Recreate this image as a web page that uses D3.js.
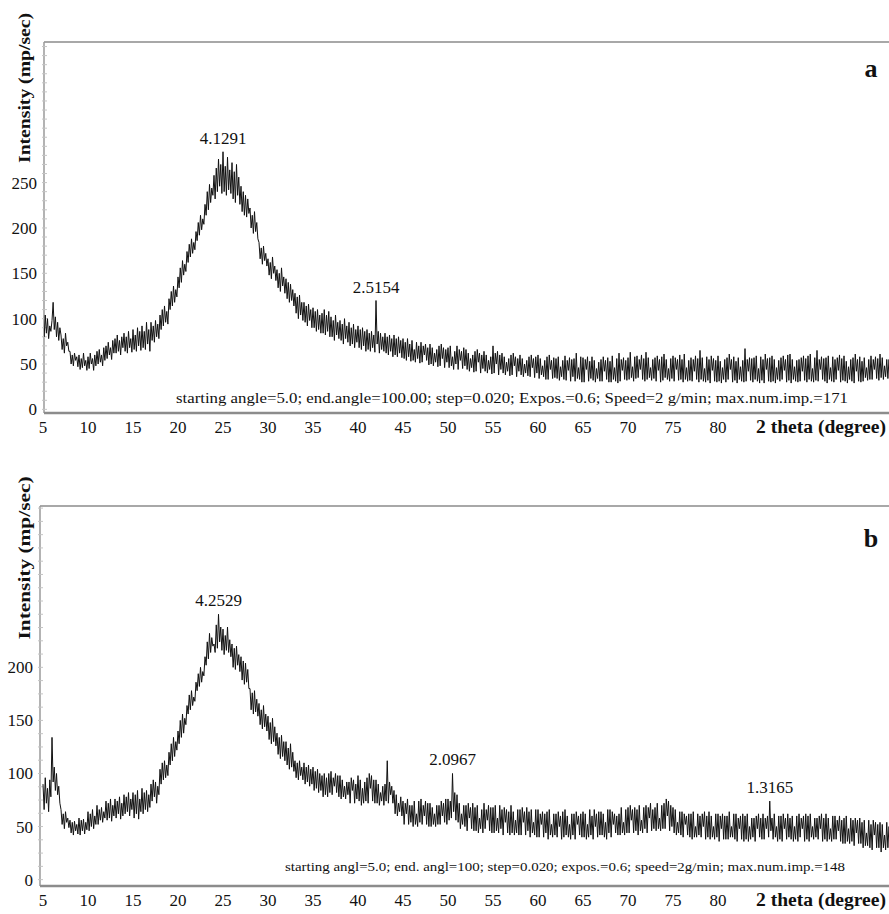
<!DOCTYPE html>
<html>
<head>
<meta charset="utf-8">
<script src="https://cdn.jsdelivr.net/npm/d3@7/dist/d3.min.js"></script>
<style>
body { margin: 0; background: #fff; }
text { font-family: "Liberation Serif", "Times New Roman", Times, serif; fill: #111; }
</style>
</head>
<body>
<svg id="chart" width="889" height="914"></svg>
<script>
// 2 theta grid of the read-off values (degrees), eight readings per degree
var theta_start = 5;
var theta_step = 0.125;

// panel a, intensity (mp/sec), one row per degree from 5 to 99
var intensity_a = [
    96, 80, 104, 84, 100, 78, 92, 86,
    98, 118, 88, 102, 80, 96, 76, 90,
    82, 66, 78, 62, 84, 70, 74, 64,
    64, 50, 60, 48, 62, 54, 58, 47,
    60, 44, 56, 46, 62, 48, 54, 43,
    58, 45, 62, 50, 56, 43, 60, 48,
    64, 50, 66, 52, 60, 48, 68, 54,   // 11
    70, 56, 74, 60, 68, 55, 76, 62,
    78, 62, 82, 64, 76, 60, 80, 68,
    84, 64, 80, 62, 86, 68, 78, 63,
    88, 66, 82, 64, 90, 70, 86, 65,   // 15
    92, 68, 86, 66, 96, 72, 88, 64,
    96, 76, 92, 74, 98, 80, 94, 78,
    104, 88, 110, 92, 114, 96, 108, 94,
    122, 110, 130, 114, 136, 118, 132, 124,
    146, 134, 156, 140, 164, 148, 160, 152,   // 20
    174, 162, 182, 168, 188, 172, 184, 176,
    196, 186, 206, 192, 214, 198, 210, 204,
    226, 214, 240, 220, 248, 228, 244, 236,
    258, 232, 266, 240, 276, 246, 270, 238,
    284, 240, 268, 236, 278, 242, 264, 238,   // 25
    272, 232, 262, 228, 270, 236, 256, 226,
    246, 218, 240, 214, 236, 212, 232, 216,
    222, 200, 214, 194, 218, 196, 206, 188,
    184, 166, 178, 160, 180, 164, 172, 158,
    166, 148, 162, 144, 168, 150, 158, 142,   // 30
    154, 134, 150, 130, 156, 136, 146, 128,
    144, 122, 140, 118, 138, 120, 132, 114,
    128, 106, 124, 100, 126, 104, 118, 98,
    118, 96, 114, 92, 116, 98, 110, 90,
    112, 90, 108, 86, 110, 88, 104, 84,   // 35
    106, 84, 110, 82, 104, 86, 108, 80,
    102, 80, 98, 76, 104, 82, 96, 78,
    98, 76, 94, 72, 100, 78, 92, 74,
    96, 70, 90, 72, 94, 68, 88, 74,
    92, 68, 88, 66, 90, 70, 86, 64,   // 40
    88, 66, 84, 64, 86, 68, 82, 63,
    120, 72, 86, 62, 84, 66, 80, 64,
    84, 62, 80, 60, 82, 64, 78, 58,
    82, 60, 78, 58, 80, 62, 76, 57,
    78, 56, 74, 54, 78, 58, 72, 53,   // 45
    76, 54, 66, 52, 74, 56, 70, 51,
    74, 52, 70, 60, 72, 54, 68, 49,
    72, 50, 68, 48, 62, 52, 66, 47,
    70, 48, 72, 56, 68, 46, 66, 52,
    68, 46, 70, 48, 58, 44, 64, 50,   // 50
    70, 44, 66, 54, 64, 45, 68, 48,
    66, 44, 62, 42, 56, 46, 60, 41,
    64, 42, 66, 52, 62, 40, 60, 45,
    64, 42, 60, 40, 54, 44, 58, 39,
    70, 40, 62, 50, 64, 38, 60, 44,   // 55
    62, 40, 58, 38, 52, 42, 56, 37,
    60, 38, 62, 48, 58, 36, 56, 42,
    60, 38, 56, 36, 50, 40, 54, 37,
    58, 36, 60, 46, 56, 35, 58, 40,
    60, 34, 56, 38, 48, 36, 54, 33,   // 60
    58, 33, 60, 44, 54, 34, 57, 35,
    56, 34, 58, 32, 47, 36, 54, 33,
    59, 32, 54, 43, 57, 31, 55, 36,
    56, 31, 62, 34, 46, 33, 58, 30,
    57, 30, 55, 44, 58, 31, 53, 34,   // 65
    58, 32, 54, 30, 45, 34, 52, 31,
    55, 31, 58, 42, 54, 33, 57, 30,
    53, 30, 59, 33, 46, 31, 56, 29,
    62, 31, 55, 43, 57, 33, 54, 32,
    57, 33, 63, 35, 47, 31, 58, 34,   // 70
    59, 35, 55, 44, 60, 33, 56, 31,
    63, 33, 57, 35, 46, 32, 55, 34,
    57, 31, 59, 43, 55, 30, 58, 32,
    61, 35, 55, 33, 45, 31, 56, 34,
    59, 31, 57, 44, 55, 32, 60, 33,   // 75
    55, 30, 61, 33, 46, 31, 54, 32,
    57, 31, 55, 42, 59, 33, 56, 30,
    65, 33, 57, 31, 45, 30, 58, 32,
    55, 29, 59, 43, 56, 31, 54, 30,
    59, 31, 53, 29, 46, 33, 55, 30,   // 80
    57, 33, 61, 44, 55, 30, 58, 32,
    53, 29, 57, 33, 47, 31, 54, 30,
    67, 31, 55, 42, 57, 32, 56, 30,
    57, 33, 59, 31, 45, 29, 58, 32,
    55, 29, 61, 44, 56, 31, 57, 30,   // 85
    59, 31, 55, 29, 46, 33, 54, 31,
    57, 33, 59, 43, 55, 30, 60, 32,
    61, 29, 55, 33, 47, 31, 54, 30,
    55, 31, 57, 42, 59, 32, 56, 30,
    59, 33, 61, 31, 45, 30, 57, 32,   // 90
    65, 31, 55, 44, 58, 33, 56, 31,
    57, 29, 59, 33, 46, 31, 58, 30,
    55, 33, 57, 43, 60, 30, 56, 32,
    59, 31, 53, 29, 47, 33, 55, 31,
    57, 29, 61, 42, 55, 31, 58, 30,   // 95
    53, 31, 57, 35, 46, 32, 55, 33,
    59, 33, 55, 44, 58, 34, 56, 32,
    61, 35, 57, 33, 48, 36, 55, 34,
    55, 33, 59, 45, 57, 35, 60, 34
];

// panel b, intensity (mp/sec), one row per degree from 5 to 99
var intensity_b = [
    90, 66, 96, 72, 86, 64, 94, 78,
    134, 92, 106, 84, 100, 80, 88, 72,
    66, 52, 62, 48, 64, 54, 58, 49,
    56, 44, 54, 42, 55, 46, 52, 43,
    58, 42, 56, 46, 57, 43, 54, 47,
    64, 46, 62, 50, 66, 48, 60, 52,   // 10
    70, 52, 66, 56, 68, 54, 64, 58,
    74, 56, 72, 58, 76, 55, 70, 60,
    76, 58, 74, 62, 78, 57, 72, 60,
    80, 62, 78, 64, 82, 60, 76, 66,
    82, 58, 80, 62, 84, 57, 76, 64,   // 15
    86, 62, 82, 66, 84, 64, 80, 68,
    90, 74, 94, 78, 92, 72, 88, 80,
    104, 90, 110, 94, 112, 96, 108, 98,
    120, 108, 128, 112, 134, 116, 130, 122,
    140, 128, 150, 134, 156, 138, 152, 146,   // 20
    164, 156, 174, 160, 178, 164, 172, 168,
    186, 178, 194, 182, 200, 186, 196, 192,
    210, 202, 224, 208, 232, 214, 228, 220,
    222, 214, 240, 218, 250, 224, 238, 216,
    236, 212, 230, 216, 238, 214, 226, 210,   // 25
    222, 200, 218, 198, 220, 202, 212, 196,
    210, 188, 206, 184, 204, 186, 198, 180,
    180, 160, 176, 156, 178, 158, 170, 154,
    166, 146, 160, 142, 164, 144, 156, 140,
    154, 132, 148, 128, 152, 130, 144, 126,   // 30
    138, 118, 134, 114, 136, 116, 130, 112,
    130, 108, 124, 104, 128, 106, 120, 102,
    112, 96, 110, 94, 112, 98, 106, 94,
    110, 90, 106, 92, 108, 88, 104, 90,
    106, 84, 102, 86, 104, 82, 100, 84,   // 35
    98, 78, 100, 80, 96, 78, 100, 82,
    102, 80, 96, 88, 100, 82, 98, 78,
    98, 76, 94, 78, 88, 76, 92, 80,
    92, 72, 96, 84, 94, 72, 90, 76,
    98, 74, 94, 70, 86, 72, 92, 74,   // 40
    96, 72, 100, 86, 98, 74, 94, 72,
    94, 72, 90, 70, 82, 74, 88, 70,
    90, 74, 112, 72, 92, 80, 88, 72,
    84, 62, 80, 60, 72, 64, 78, 60,
    74, 52, 72, 62, 76, 52, 70, 54,   // 45
    70, 50, 74, 52, 62, 50, 74, 54,
    76, 52, 70, 60, 74, 52, 72, 50,
    72, 50, 68, 52, 62, 50, 70, 52,
    70, 52, 74, 60, 72, 54, 76, 52,
    76, 56, 74, 58, 100, 64, 82, 56,   // 50
    80, 54, 72, 48, 62, 52, 70, 50,
    70, 46, 72, 58, 68, 48, 72, 46,
    68, 46, 70, 44, 58, 48, 66, 44,
    72, 48, 66, 56, 70, 46, 68, 44,
    68, 44, 70, 46, 58, 44, 70, 48,   // 55
    66, 42, 68, 54, 66, 44, 64, 42,
    70, 44, 64, 42, 56, 44, 66, 42,
    66, 42, 68, 54, 64, 42, 68, 46,
    64, 40, 66, 44, 54, 42, 66, 40,
    66, 40, 62, 52, 64, 40, 62, 44,   // 60
    64, 38, 66, 42, 52, 40, 62, 42,
    62, 40, 64, 50, 60, 38, 64, 40,
    66, 42, 60, 40, 52, 38, 62, 42,
    62, 38, 64, 52, 60, 42, 62, 40,
    64, 40, 62, 38, 52, 40, 66, 42,   // 65
    60, 38, 66, 50, 62, 40, 64, 42,
    64, 42, 62, 40, 54, 38, 66, 44,
    66, 40, 64, 52, 62, 44, 60, 42,
    62, 42, 68, 44, 54, 42, 66, 44,
    68, 44, 70, 56, 66, 44, 68, 46,   // 70
    66, 42, 70, 46, 56, 44, 68, 48,
    70, 44, 68, 58, 72, 46, 66, 48,
    68, 46, 72, 48, 58, 46, 70, 48,
    72, 48, 76, 60, 74, 46, 70, 50,
    68, 44, 66, 42, 54, 44, 64, 42,   // 75
    64, 40, 62, 52, 60, 42, 62, 40,
    62, 38, 64, 40, 50, 40, 62, 42,
    60, 40, 62, 50, 64, 38, 60, 40,
    64, 38, 60, 40, 50, 38, 62, 40,
    62, 36, 60, 48, 62, 38, 60, 38,   // 80
    60, 38, 64, 40, 50, 40, 62, 38,
    62, 36, 58, 48, 60, 38, 62, 36,
    60, 38, 62, 36, 50, 38, 58, 40,
    58, 36, 60, 48, 62, 40, 58, 38,
    62, 38, 58, 48, 60, 40, 74, 46,   // 85
    58, 38, 62, 40, 50, 36, 60, 38,
    60, 36, 62, 48, 58, 38, 62, 40,
    58, 38, 60, 36, 50, 38, 60, 36,
    62, 40, 58, 48, 60, 36, 62, 38,
    60, 36, 62, 40, 50, 38, 58, 40,   // 90
    58, 38, 60, 48, 62, 36, 58, 38,
    62, 36, 58, 38, 48, 36, 60, 38,
    60, 38, 56, 46, 60, 36, 56, 34,
    58, 34, 60, 36, 48, 34, 58, 36,
    56, 32, 58, 44, 56, 34, 58, 34,   // 95
    54, 30, 56, 32, 44, 32, 56, 30,
    52, 28, 56, 42, 54, 30, 52, 30,
    54, 26, 52, 30, 42, 28, 54, 30,
    50, 28, 54, 40, 52, 32, 56, 30
];

var theta_ticks = [5, 10, 15, 20, 25, 30, 35, 40, 45, 50, 55, 60, 65, 70, 75, 80];
var intensity_ticks_a = [0, 50, 100, 150, 200, 250];
var intensity_ticks_b = [0, 50, 100, 150, 200];

var peaks_a = [
    {theta: 25.0, intensity: 284, label: "4.1291"},
    {theta: 42.0, intensity: 120, label: "2.5154"}
];
var peaks_b = [
    {theta: 24.5, intensity: 250, label: "4.2529"},
    {theta: 50.5, intensity: 100, label: "2.0967"},
    {theta: 85.75, intensity: 74, label: "1.3165"}
];

var notes = [
    "starting angle=5.0; end.angle=100.00; step=0.020; Expos.=0.6; Speed=2 g/min; max.num.imp.=171",
    "starting angl=5.0; end. angl=100; step=0.020; expos.=0.6; speed=2g/min; max.num.imp.=148"
];

var svg = d3.select("#chart");

var panels = [
    {name: "a", values: intensity_a, ticks: intensity_ticks_a, peaks: peaks_a, note: notes[0],
     left: 44, top: 42, bottom: 413, ydomain: [-4, 405], minor: 10,
     note_x: 176, note_y: 403, note_len: 672, note_size: 14,
     title_y: 88, title_len: 150, letter_y: 77},
    {name: "b", values: intensity_b, ticks: intensity_ticks_b, peaks: peaks_b, note: notes[1],
     left: 40, top: 506, bottom: 886, ydomain: [-6, 352], minor: 12.5,
     note_x: 285, note_y: 871, note_len: 560, note_size: 12.5,
     title_y: 558, title_len: 163, letter_y: 547}
];

var x = d3.scaleLinear().domain([5, 100]).range([43, 898]);

var draw_panel = function(p, i) {
    var g = svg.append("g");
    var y = d3.scaleLinear().domain(p.ydomain).range([p.bottom, p.top]);

    var data = p.values.map(function(v, j) {
        return {theta: theta_start + j * theta_step, intensity: v};
    });

    g.append("clipPath").attr("id", "clip" + i)
        .append("rect")
        .attr("x", p.left).attr("y", p.top)
        .attr("width", 889 - p.left).attr("height", p.bottom - p.top);

    // frame: top line, left axis, bottom axis
    g.append("line")
        .attr("x1", p.left).attr("x2", 889).attr("y1", p.top).attr("y2", p.top)
        .attr("stroke", "#a8a8a8").attr("stroke-width", 2);
    g.append("line")
        .attr("x1", p.left).attr("x2", p.left).attr("y1", p.top).attr("y2", p.bottom)
        .attr("stroke", "#9a9a9a").attr("stroke-width", 1.5);
    g.append("line")
        .attr("x1", p.left).attr("x2", 889).attr("y1", p.bottom).attr("y2", p.bottom)
        .attr("stroke", "#8c8c8c").attr("stroke-width", 2.5);

    // faint minor ticks on the intensity axis
    var minor = d3.range(0, p.ydomain[1], p.minor);
    g.selectAll(".minor").data(minor).enter().append("line")
        .attr("class", "minor")
        .attr("x1", p.left - 2).attr("x2", p.left + 3)
        .attr("y1", function(d) { return y(d); })
        .attr("y2", function(d) { return y(d); })
        .attr("stroke", "#c4c4c4").attr("stroke-width", 1);

    // the pattern itself
    var line = d3.line()
        .x(function(d) { return x(d.theta); })
        .y(function(d) { return y(d.intensity); });

    g.append("path")
        .datum(data)
        .attr("clip-path", "url(#clip" + i + ")")
        .attr("d", line)
        .attr("fill", "none")
        .attr("stroke", "#111")
        .attr("stroke-width", 1)
        .attr("stroke-linejoin", "miter");

    // tick labels
    g.selectAll(".ylab").data(p.ticks).enter().append("text")
        .attr("class", "ylab")
        .attr("x", p.left - 7)
        .attr("y", function(d) { return y(d) + 6; })
        .attr("text-anchor", "end")
        .attr("font-size", 17)
        .text(function(d) { return d; });

    g.selectAll(".xlab").data(theta_ticks).enter().append("text")
        .attr("class", "xlab")
        .attr("x", function(d) { return x(d); })
        .attr("y", p.bottom + 20)
        .attr("text-anchor", "middle")
        .attr("font-size", 17)
        .text(function(d) { return d; });

    // axis titles
    g.append("text")
        .attr("transform", "translate(30," + p.title_y + ") rotate(-90)")
        .attr("text-anchor", "middle")
        .attr("font-size", 17)
        .attr("font-weight", "bold")
        .attr("textLength", p.title_len)
        .attr("lengthAdjust", "spacingAndGlyphs")
        .text("Intensity (mp/sec)");

    g.append("text")
        .attr("x", 756)
        .attr("y", p.bottom + 20)
        .attr("font-size", 18)
        .attr("font-weight", "bold")
        .attr("textLength", 130)
        .attr("lengthAdjust", "spacingAndGlyphs")
        .text("2 theta (degree)");

    // panel letter
    g.append("text")
        .attr("x", 871).attr("y", p.letter_y)
        .attr("text-anchor", "middle")
        .attr("font-size", 26)
        .attr("font-weight", "bold")
        .text(p.name);

    // measurement settings
    g.append("text")
        .attr("x", p.note_x).attr("y", p.note_y)
        .attr("font-size", p.note_size)
        .attr("textLength", p.note_len)
        .attr("lengthAdjust", "spacingAndGlyphs")
        .text(p.note);

    // d-spacing labels above the peaks
    g.selectAll(".peak").data(p.peaks).enter().append("text")
        .attr("class", "peak")
        .attr("x", function(d) { return x(d.theta); })
        .attr("y", function(d) { return y(d.intensity) - 8; })
        .attr("text-anchor", "middle")
        .attr("font-size", 17)
        .text(function(d) { return d.label; });
};

panels.forEach(draw_panel);
</script>
</body>
</html>
